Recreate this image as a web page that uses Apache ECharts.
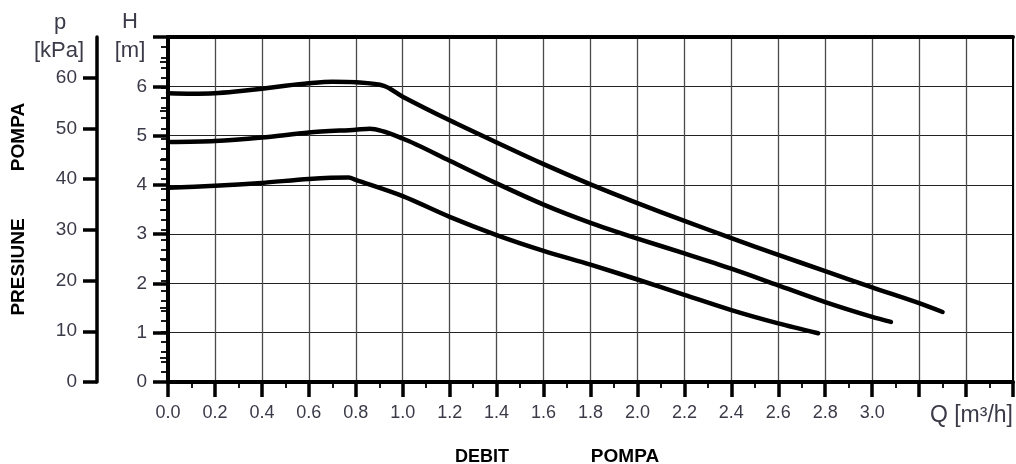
<!DOCTYPE html>
<html>
<head>
<meta charset="utf-8">
<script src="https://cdn.jsdelivr.net/npm/echarts@6/dist/echarts.min.js"></script>
<style>
html,body{margin:0;padding:0;background:#fff;}
#chart{width:1016px;height:464px;}
</style>
</head>
<body>
<div id="chart"></div>
<script>
// Curve 1 (highest speed)
const q1 = [0, 0.1, 0.2, 0.3, 0.4, 0.5, 0.6, 0.7, 0.8, 0.92, 1.0, 1.2, 1.4, 1.6, 1.8, 2.0, 2.2, 2.4, 2.6, 2.8, 3.0, 3.2, 3.3];
const h1 = [5.86, 5.85, 5.86, 5.9, 5.95, 6.01, 6.06, 6.09, 6.08, 6.01, 5.79, 5.31, 4.86, 4.42, 4.01, 3.63, 3.27, 2.92, 2.58, 2.25, 1.92, 1.6, 1.42];
// Curve 2 (medium speed)
const q2 = [0, 0.2, 0.4, 0.6, 0.8, 0.86, 1.0, 1.2, 1.4, 1.6, 1.8, 2.0, 2.2, 2.4, 2.6, 2.8, 3.0, 3.08];
const h2 = [4.87, 4.89, 4.96, 5.06, 5.12, 5.14, 4.94, 4.49, 4.03, 3.6, 3.23, 2.91, 2.61, 2.3, 1.96, 1.62, 1.32, 1.22];
// Curve 3 (lowest speed)
const q3 = [0, 0.2, 0.4, 0.6, 0.77, 0.8, 1.0, 1.2, 1.4, 1.6, 1.8, 2.0, 2.2, 2.4, 2.6, 2.77];
const h3 = [3.94, 3.98, 4.04, 4.12, 4.15, 4.1, 3.77, 3.35, 2.98, 2.66, 2.38, 2.08, 1.77, 1.46, 1.19, 0.99];
// Axis labels
const kpaTicks = [0, 10, 20, 30, 40, 50, 60];
const xLabelMax = 3.0;

const FONT = "'Liberation Sans', Arial, sans-serif";
const LABEL_COLOR = '#3a3a48';

function pairs(xs, ys) { return xs.map((x, i) => [x, ys[i]]); }

const chart = echarts.init(document.getElementById('chart'), null, {renderer: 'canvas'});

const lineSeries = (data) => ({
  type: 'line',
  data: data,
  xAxisIndex: 0,
  yAxisIndex: 0,
  smooth: 0.3,
  symbol: 'none',
  lineStyle: {color: '#000', width: 4.5, cap: 'round', join: 'round'},
  z: 5
});

chart.setOption({
  animation: false,
  backgroundColor: '#fff',
  grid: {left: 168, right: 1, top: 37, bottom: 82, containLabel: false},
  xAxis: [
    {
      type: 'value', min: 0, max: 3.6, interval: 0.2, position: 'bottom',
      axisLine: {show: true, onZero: false, lineStyle: {color: '#000', width: 4}},
      axisTick: {show: true, inside: false, length: 15, lineStyle: {color: '#000', width: 3.5}},
      minorTick: {show: true, splitNumber: 2, length: 6, lineStyle: {color: '#000', width: 1.8}},
      axisLabel: {
        margin: 22, fontSize: 18, fontFamily: FONT, color: LABEL_COLOR,
        formatter: v => (v <= xLabelMax + 1e-6 ? v.toFixed(1) : '')
      },
      splitLine: {show: true, lineStyle: {color: '#4a4a4a', width: 1.3}},
      minorSplitLine: {show: false}
    },
    {
      type: 'value', min: 0, max: 3.6, position: 'top',
      axisLine: {show: true, onZero: false, lineStyle: {color: '#000', width: 4}},
      axisTick: {show: false}, axisLabel: {show: false}, splitLine: {show: false}
    }
  ],
  yAxis: [
    {
      type: 'value', min: 0, max: 7, interval: 1, position: 'left',
      axisLine: {show: true, onZero: false, lineStyle: {color: '#000', width: 4}},
      axisTick: {show: true, inside: false, length: 15, lineStyle: {color: '#000', width: 3.5}},
      minorTick: {show: true, splitNumber: 2, length: 8, lineStyle: {color: '#000', width: 1.8}},
      axisLabel: {
        margin: 21, fontSize: 19, fontFamily: FONT, color: LABEL_COLOR,
        formatter: v => (v >= 7 ? '' : String(v))
      },
      splitLine: {show: true, lineStyle: {color: '#222', width: 1.2}}
    },
    {
      type: 'value', min: 0, max: 68, interval: 10, position: 'left', offset: 71,
      axisLine: {show: true, onZero: false, lineStyle: {color: '#000', width: 3.5}},
      axisTick: {show: true, inside: false, length: 14, customValues: kpaTicks, lineStyle: {color: '#000', width: 3.5}},
      axisLabel: {
        margin: 20, fontSize: 19, fontFamily: FONT, color: LABEL_COLOR,
        customValues: kpaTicks
      },
      splitLine: {show: false}
    },
    {
      type: 'value', min: 0, max: 68, interval: 2, position: 'left', offset: 71,
      axisLine: {show: false},
      axisTick: {show: true, inside: false, length: 7, lineStyle: {color: '#000', width: 1.8}},
      axisLabel: {show: false},
      splitLine: {show: false}
    },
    {
      type: 'value', min: 0, max: 7, position: 'right',
      axisLine: {show: true, onZero: false, lineStyle: {color: '#000', width: 2}},
      axisTick: {show: false}, axisLabel: {show: false}, splitLine: {show: false}
    }
  ],
  graphic: [
    {type: 'text', x: 60, y: 23, style: {text: 'p', font: '22px ' + FONT, fill: LABEL_COLOR, textAlign: 'center', textVerticalAlign: 'middle'}},
    {type: 'text', x: 59, y: 51, style: {text: '[kPa]', font: '22px ' + FONT, fill: LABEL_COLOR, textAlign: 'center', textVerticalAlign: 'middle'}},
    {type: 'text', x: 130, y: 22, style: {text: 'H', font: '22px ' + FONT, fill: LABEL_COLOR, textAlign: 'center', textVerticalAlign: 'middle'}},
    {type: 'text', x: 130, y: 51, style: {text: '[m]', font: '22px ' + FONT, fill: LABEL_COLOR, textAlign: 'center', textVerticalAlign: 'middle'}},
    {type: 'text', x: 19, y: 137, rotation: Math.PI / 2, style: {text: 'POMPA', font: 'bold 19px ' + FONT, fill: '#000', textAlign: 'center', textVerticalAlign: 'middle'}},
    {type: 'text', x: 19, y: 267, rotation: Math.PI / 2, style: {text: 'PRESIUNE', font: 'bold 19px ' + FONT, fill: '#000', textAlign: 'center', textVerticalAlign: 'middle'}},
    {type: 'text', x: 482, y: 457, style: {text: 'DEBIT', font: 'bold 18px ' + FONT, fill: '#000', textAlign: 'center', textVerticalAlign: 'middle'}},
    {type: 'text', x: 625, y: 457, style: {text: 'POMPA', font: 'bold 19px ' + FONT, fill: '#000', textAlign: 'center', textVerticalAlign: 'middle'}},
    {type: 'text', x: 1013, y: 416, style: {text: 'Q [m³/h]', font: '23px ' + FONT, fill: LABEL_COLOR, textAlign: 'right', textVerticalAlign: 'middle'}}
  ],
  series: [
    lineSeries(pairs(q1, h1)),
    lineSeries(pairs(q2, h2)),
    lineSeries(pairs(q3, h3))
  ]
});
</script>
</body>
</html>
